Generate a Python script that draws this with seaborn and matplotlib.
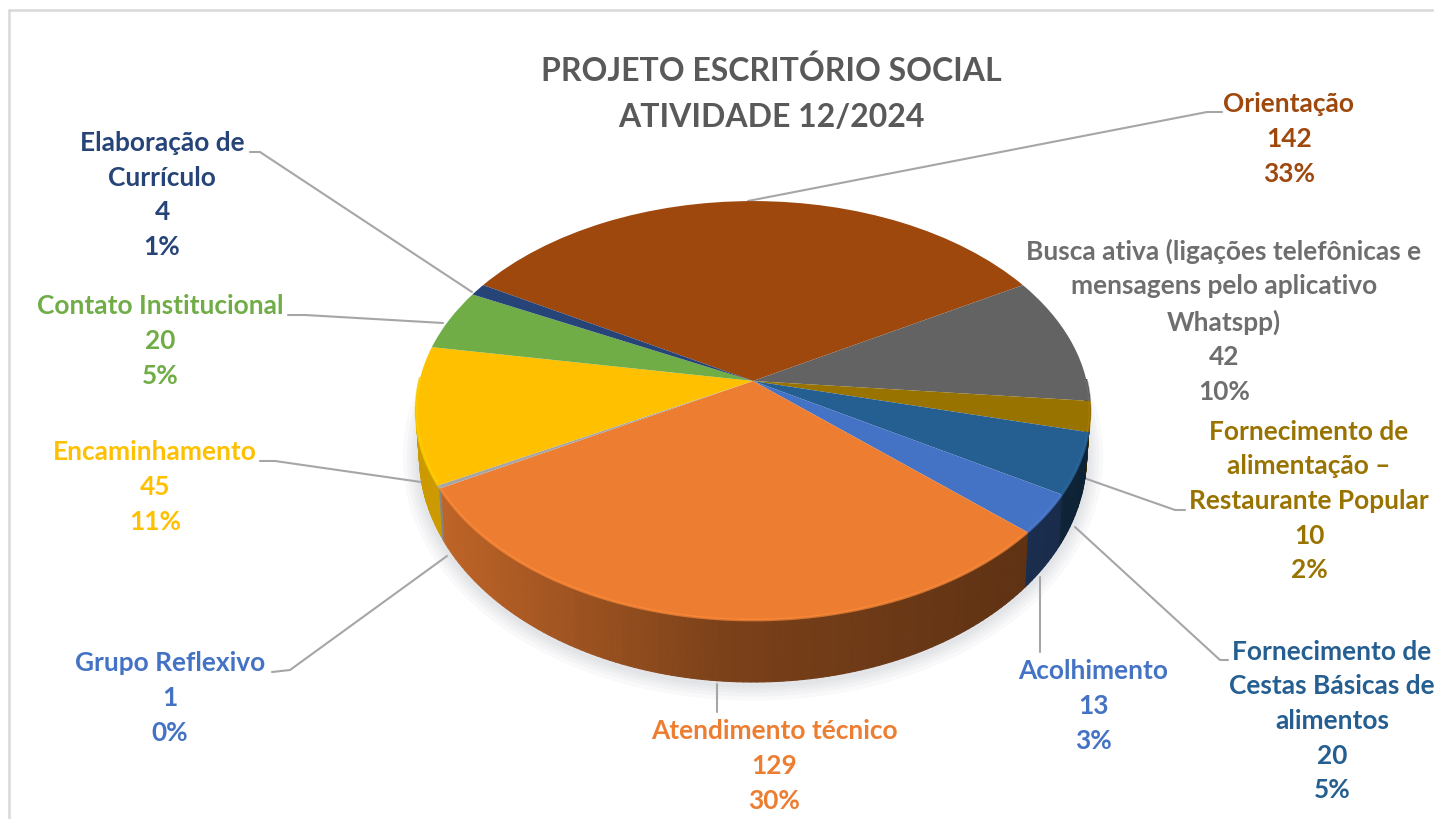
import numpy as np
import seaborn as sns
from matplotlib import pyplot as plt
from matplotlib.collections import PolyCollection
from matplotlib.transforms import Transform

categories = ["Orientação", "Busca ativa (ligações telefônicas e\nmensagens pelo aplicativo\nWhatspp)",
              "Fornecimento de\nalimentação –\nRestaurante Popular", "Fornecimento de\nCestas Básicas de\nalimentos",
              "Acolhimento", "Atendimento técnico", "Grupo Reflexivo", "Encaminhamento",
              "Contato Institucional", "Elaboração de\nCurrículo"]
values = [142, 42, 10, 20, 13, 129, 1, 45, 20, 4]
slice_colors = ["#9E480E", "#636363", "#997300", "#255E91", "#4472C4",
                "#ED7D31", "#A5A5A5", "#FFC000", "#70AD47", "#264478"]
text_colors = ["#9E480E", "#6E6E6E", "#997300", "#255E91", "#4472C4",
               "#ED7D31", "#4472C4", "#FFC000", "#70AD47", "#264478"]
title_lines = "PROJETO ESCRITÓRIO SOCIAL\nATIVIDADE 12/2024"

# label centres and leader lines, in pixels of the picture
label_pos = [(1289, 139), (1224, 321), (1309, 501), (1332, 721), (1093, 706),
             (774, 766), (170, 698), (155, 487), (160, 341), (162, 195)]
leaders = [[(748, 201), (1207, 112), (1222, 112)],
           [],
           [(1084, 478), (1175, 510), (1185, 510)],
           [(1075, 527), (1220, 660), (1228, 660)],
           [(1040, 577), (1040, 652)],
           [(717, 684), (717, 712)],
           [(447, 556), (290, 670), (272, 672)],
           [(421, 482), (275, 461), (260, 461)],
           [(443, 323), (305, 315), (288, 315)],
           [(472, 292), (260, 152), (250, 152)]]

# pie seen at an angle: centre, half sizes and how much the front grows
CX, CY, B, A, K = 753, 381, 333.6, 205.3, 0.141
START = 150


def project(u, w):
    d = 1 + K * w
    return CX + B * u / d, CY - A * w / d


class TiltTransform(Transform):
    input_dims = 2
    output_dims = 2

    def transform_non_affine(self, xy):
        xy = np.asarray(xy)
        x, y = project(xy[:, 0], xy[:, 1])
        return np.column_stack([x, y])


def shade(color, x):
    # side of the pie goes darker from left to right
    f = np.interp(x, [440, 720, 1030, 1090], [0.80, 0.52, 0.40, 0.36])
    return tuple(np.array(color) * f)


sns.set_theme(style="white")
plt.rcParams["font.family"] = ["Lato", "DejaVu Sans"]
palette = sns.color_palette(slice_colors)

fig, ax = plt.subplots(figsize=(14.34, 8.19), dpi=100)
fig.subplots_adjust(left=0, right=1, top=1, bottom=0)

wedges = ax.pie(values, colors=palette, startangle=START, counterclock=False,
                wedgeprops={"linewidth": 0})[0]
tilt = TiltTransform()
for w in wedges:
    w.set_transform(tilt + ax.transData)
    w.set_zorder(5)
    w.set_antialiased(True)

ax.set_aspect("auto")
ax.set_xlim(0, 1434)
ax.set_ylim(819, 0)
ax.axis("off")

# soft shadow under the pie
t = np.radians(np.linspace(176, 364, 200))
sx, sy = project(np.cos(t), np.sin(t))
low_x = CX + (sx - CX) * 0.99
low_y = sy + 42 - 20 * np.sin(t)
for lw in [24, 18, 13, 9, 5]:
    ax.plot(low_x, low_y + 2, color="#8a94a0", alpha=0.05, lw=lw, zorder=1, solid_capstyle="round")

# side wall and light rim, slice by slice
edges = START - np.cumsum([0] + values) / sum(values) * 360
for i in range(len(values)):
    a1, a2 = edges[i], edges[i + 1]
    n = max(2, int(abs(a1 - a2)) + 2)
    t = np.radians(np.linspace(a1, a2, n))
    keep = np.sin(t) <= 0.02
    if keep.sum() < 2:
        continue
    t = t[keep]
    x, y = project(np.cos(t), np.sin(t))
    xb = CX + (x - CX) * 0.99
    yb = y + 42 - 20 * np.sin(t)
    quads = [[(x[j], y[j]), (x[j + 1], y[j + 1]), (xb[j + 1], yb[j + 1]), (xb[j], yb[j])]
             for j in range(len(t) - 1)]
    cols = [shade(palette[i], (x[j] + x[j + 1]) / 2) for j in range(len(t) - 1)]
    ax.add_collection(PolyCollection(quads, facecolors=cols, edgecolors=cols, linewidths=0.8, zorder=3))
    rim = tuple(np.clip(np.array(palette[i]) * 1.08 + 0.02, 0, 1))
    ax.plot(x, y, color=rim, lw=2.0, alpha=0.7, zorder=6, solid_capstyle="butt")

for pts in leaders:
    if pts:
        ax.plot([p[0] for p in pts], [p[1] for p in pts], color="#A6A6A6", lw=1.5, zorder=2)

total = sum(values)
for i in range(len(values)):
    pct = round(values[i] / total * 100)
    ax.text(label_pos[i][0], label_pos[i][1], f"{categories[i]}\n{values[i]}\n{pct}%",
            ha="center", va="center", color=text_colors[i], fontsize=18.9, fontweight="bold",
            linespacing=1.53, zorder=8)

ax.text(771, 94, title_lines, ha="center", va="center", color="#595959", fontsize=23,
        fontweight="bold", linespacing=1.7, zorder=8)

# chart frame, cut by the edge of the picture
ax.plot([9, 9], [819, 10], color="#D9D9D9", lw=1.8, zorder=0)
ax.plot([9, 1434], [10, 10], color="#D9D9D9", lw=1.8, zorder=0)

fig.savefig("out.png", dpi=100)
